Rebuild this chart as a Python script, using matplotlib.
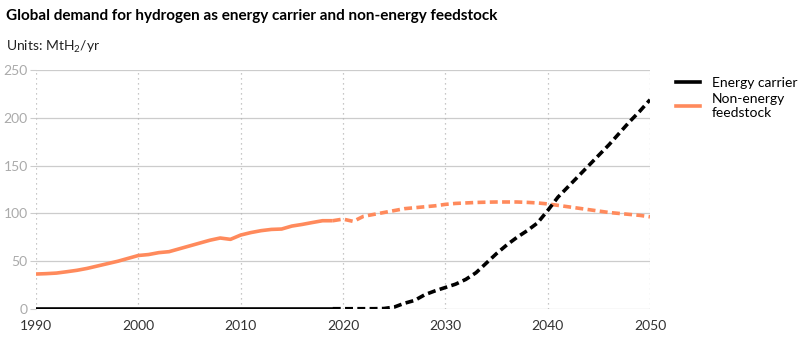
import matplotlib
matplotlib.use("Agg")
import matplotlib.pyplot as plt
from matplotlib.lines import Line2D

plt.rcParams['font.family'] = ['Lato', 'DejaVu Sans']
plt.rcParams['mathtext.fontset'] = 'custom'
plt.rcParams['mathtext.rm'] = 'Lato'
plt.rcParams['mathtext.it'] = 'Lato:italic'

hist_years = list(range(1990, 2020))
nonenergy_hist = [36.6, 37, 37.6, 39, 40.5, 42.5, 45, 47.5, 50, 53, 56, 57, 59, 60, 63, 66,
                  69, 72, 74.3, 72.9, 77.4, 80, 82, 83.3, 83.7, 86.8, 88.5, 90.5, 92.4, 92.4]
energy_hist = [0.3] * 30

proj_years = list(range(2019, 2051))
nonenergy_proj = [92.4, 94.1, 91.7, 97, 99, 101, 103, 105, 106, 107, 108, 109.5, 110.5, 111,
                  111.5, 111.8, 112, 112, 112, 111.6, 111, 110, 108.5, 107, 105.5, 104, 102.5,
                  101, 100, 99, 98, 96.5]
energy_proj = [0.3, 0.3, 0.3, 0.3, 0.3, 0.5, 2, 6, 9, 15, 19, 22.5, 26, 31, 38, 48, 58, 67,
               75, 82, 90, 103, 117, 128, 139, 150, 161, 172, 184, 196, 207, 219]

series_labels = ["Energy carrier", "Non-energy\nfeedstock"]
x_ticks = [1990, 2000, 2010, 2020, 2030, 2040, 2050]
y_ticks = [0, 50, 100, 150, 200, 250]

orange = "#ff8a5c"
fig = plt.figure(figsize=(8, 3.56), dpi=100)
ax = fig.add_axes([0.045, 0.132, 0.7675, 0.671])

for y in y_ticks:
    ax.axhline(y, color="#cccccc", lw=0.9, zorder=1)
for x in x_ticks:
    ax.axvline(x, color="#b5b5b5", lw=0.9, ls=(0, (1, 3)), zorder=1)

ax.plot(hist_years, nonenergy_hist, color=orange, lw=2.6, solid_capstyle="butt", zorder=3)
ax.plot(proj_years, nonenergy_proj, color=orange, lw=2.6, ls=(0, (2.2, 1.2)), zorder=3)
ax.plot(hist_years, energy_hist, color="black", lw=2.6, solid_capstyle="butt", zorder=4)
ax.plot(proj_years, energy_proj, color="black", lw=2.6, ls=(0, (2.2, 1.2)), zorder=4)

ax.set_xlim(1990, 2050)
ax.set_ylim(0, 250)
ax.set_xticks(x_ticks)
ax.set_yticks(y_ticks)
ax.tick_params(axis="x", length=0, pad=8, labelsize=10, labelcolor="#333333")
ax.tick_params(axis="y", length=4, width=0.8, color="#cccccc", pad=2, labelsize=10,
               labelcolor="#aaaaaa")
for s in ax.spines.values():
    s.set_visible(False)

handles = [Line2D([], [], color="black", lw=2.6), Line2D([], [], color=orange, lw=2.6)]
fig.legend(handles, series_labels, loc="upper left", bbox_to_anchor=(0.838, 0.8),
           frameon=False, fontsize=10, handlelength=1.75, handletextpad=0.85,
           labelspacing=0.3, borderaxespad=0)

fig.text(0.008, 0.955, "Global demand for hydrogen as energy carrier and non-energy feedstock",
         fontsize=11, fontweight="bold", color="black", va="center")
fig.text(0.008, 0.868, "Units: MtH$_2$/yr", fontsize=10, color="#222222", va="center")

fig.savefig("out.png", dpi=100)
